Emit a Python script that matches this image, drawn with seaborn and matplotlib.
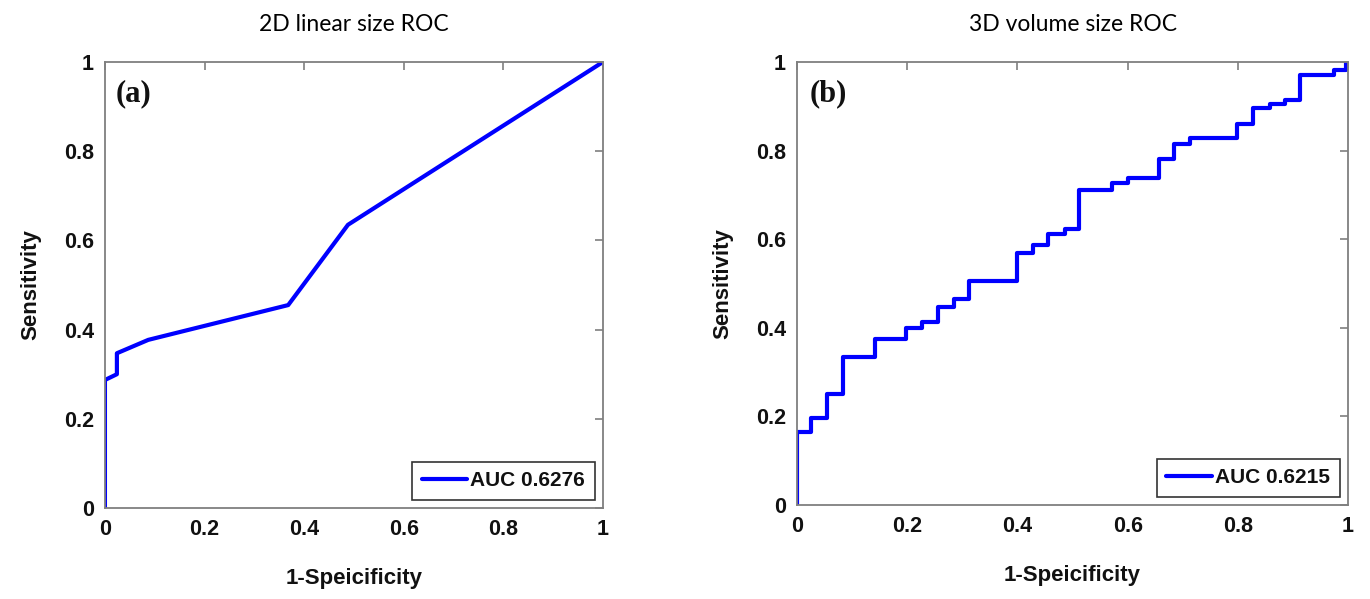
"""
plot.py
Two ROC curves side by side: 2D linear size vs. 3D volume size.
"""

import matplotlib
matplotlib.use("Agg")
import matplotlib.pyplot as plt
import seaborn as sns
import pandas as pd

# ── Data ─────────────────────────────────────────────────────────────────────

# (a) 2D linear size ROC — piecewise-linear vertices
fpr_2d = [0.0, 0.0, 0.024, 0.024, 0.087, 0.368, 0.488, 1.0]
tpr_2d = [0.0, 0.287, 0.300, 0.347, 0.377, 0.455, 0.635, 1.0]
auc_2d = 0.6276

# (b) 3D volume size ROC — step points (x where the jump happens, new tpr)
fpr_3d = [0.0, 0.0, 0.026, 0.055, 0.084, 0.142, 0.198, 0.226, 0.256, 0.285,
          0.312, 0.399, 0.428, 0.455, 0.486, 0.512, 0.572, 0.601, 0.656,
          0.684, 0.713, 0.799, 0.827, 0.858, 0.885, 0.913, 0.974, 0.997, 1.0]
tpr_3d = [0.0, 0.165, 0.196, 0.251, 0.333, 0.375, 0.400, 0.412, 0.446, 0.464,
          0.506, 0.569, 0.586, 0.612, 0.622, 0.712, 0.727, 0.738, 0.781,
          0.816, 0.828, 0.859, 0.897, 0.906, 0.914, 0.970, 0.981, 1.0, 1.0]
auc_3d = 0.6215

titles = ["2D linear size ROC", "3D volume size ROC"]
panel_tags = ["(a)", "(b)"]
ticks = [0, 0.2, 0.4, 0.6, 0.8, 1]
tick_labels = ["0", "0.2", "0.4", "0.6", "0.8", "1"]

# ── Style ────────────────────────────────────────────────────────────────────

sns.set_theme(style="white")
plt.rcParams["font.family"] = ["Liberation Sans", "DejaVu Sans"]

LINE_COLOR = "#0000ff"
FRAME_COLOR = "#7f7f7f"
TEXT_COLOR = "#111111"


def style_axes(ax, title, tag):
    ax.set_xlim(0, 1)
    ax.set_ylim(0, 1)
    ax.set_xticks(ticks)
    ax.set_yticks(ticks)
    ax.set_xticklabels(tick_labels, fontweight="bold")
    ax.set_yticklabels(tick_labels, fontweight="bold")
    ax.tick_params(direction="in", length=6, width=1.2, color=FRAME_COLOR,
                   top=True, right=True, labelsize=15.5, pad=8, labelcolor=TEXT_COLOR)
    for sp in ax.spines.values():
        sp.set_visible(True)
        sp.set_color(FRAME_COLOR)
        sp.set_linewidth(1.3)
    ax.set_xlabel("1-Speicificity", fontsize=16, fontweight="bold",
                  labelpad=20, color=TEXT_COLOR)
    ax.set_ylabel("Sensitivity", fontsize=16, fontweight="bold",
                  labelpad=16, color=TEXT_COLOR)
    ax.set_title(title, fontsize=16.5, pad=22, color="black",
                 family=["Lato", "DejaVu Sans"])
    ax.text(0.022, 0.962, tag, transform=ax.transAxes, ha="left", va="top",
            fontsize=22, fontweight="bold", color=TEXT_COLOR,
            family=["Liberation Serif", "DejaVu Serif"])
    leg = ax.legend(loc="lower right", handlelength=2.2,
                    frameon=True, fancybox=False, framealpha=1,
                    borderpad=0.45, handletextpad=0.15, borderaxespad=0.4,
                    prop={"weight": "bold", "size": 15})
    leg.get_frame().set_edgecolor("#333333")
    leg.get_frame().set_linewidth(1.2)
    for t in leg.get_texts():
        t.set_color(TEXT_COLOR)


fig = plt.figure(figsize=(13.7, 5.99), dpi=100)
ax_a = fig.add_axes([0.0766, 0.1519, 0.3635, 0.7446])
ax_b = fig.add_axes([0.5818, 0.1569, 0.4022, 0.7396])

df_a = pd.DataFrame({"fpr": fpr_2d, "tpr": tpr_2d})
sns.lineplot(data=df_a, x="fpr", y="tpr", ax=ax_a, sort=False, estimator=None,
             color=LINE_COLOR, linewidth=3, label=f"AUC {auc_2d:.4f}")

df_b = pd.DataFrame({"fpr": fpr_3d, "tpr": tpr_3d})
sns.lineplot(data=df_b, x="fpr", y="tpr", ax=ax_b, sort=False, estimator=None,
             color=LINE_COLOR, linewidth=3, drawstyle="steps-post",
             label=f"AUC {auc_3d:.4f}")

style_axes(ax_a, titles[0], panel_tags[0])
style_axes(ax_b, titles[1], panel_tags[1])

fig.savefig("out.png", dpi=100)
plt.close(fig)
